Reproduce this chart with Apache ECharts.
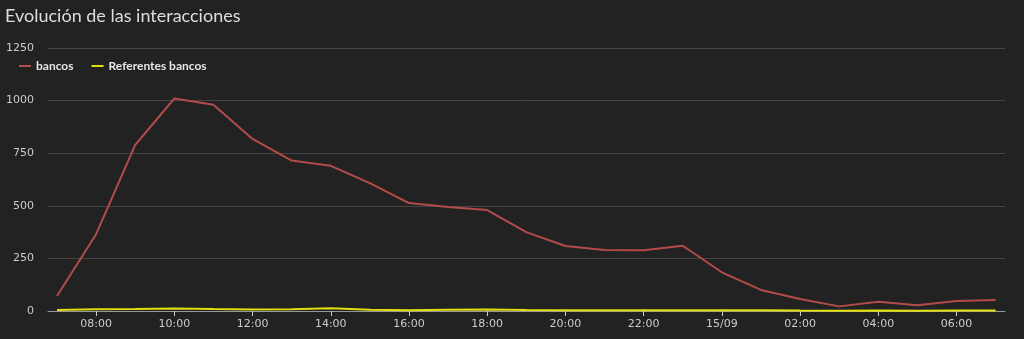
<!DOCTYPE html>
<html><head><meta charset="utf-8">
<script src="https://cdn.jsdelivr.net/npm/echarts@6/dist/echarts.min.js"></script>
<style>html,body{margin:0;padding:0;background:#222222;}#c{width:1024px;height:339px;}</style>
</head><body><div id="c"></div>
<script>
const hours = ['2023-09-14 07:00','2023-09-14 08:00','2023-09-14 09:00','2023-09-14 10:00','2023-09-14 11:00','2023-09-14 12:00','2023-09-14 13:00','2023-09-14 14:00','2023-09-14 15:00','2023-09-14 16:00','2023-09-14 17:00','2023-09-14 18:00','2023-09-14 19:00','2023-09-14 20:00','2023-09-14 21:00','2023-09-14 22:00','2023-09-14 23:00','2023-09-15 00:00','2023-09-15 01:00','2023-09-15 02:00','2023-09-15 03:00','2023-09-15 04:00','2023-09-15 05:00','2023-09-15 06:00','2023-09-15 07:00'];
const bancos = [71,365,790,1010,980,818,715,690,608,513,494,480,375,309,290,289,310,184,100,57,22,44,27,47,52];
const referentes = [5,8,9,12,9,7,8,13,6,4,6,7,5,4,3,3,4,3,4,2,1,2,1,2,2];
const seriesNames = ['bancos','Referentes bancos'];
const xTickLabels = ['2023-09-14 08:00','2023-09-14 10:00','2023-09-14 12:00','2023-09-14 14:00','2023-09-14 16:00','2023-09-14 18:00','2023-09-14 20:00','2023-09-14 22:00','2023-09-15 00:00','2023-09-15 02:00','2023-09-15 04:00','2023-09-15 06:00'];
const yTicks = [0,250,500,750,1000,1250];

function ts(s){const [d,t]=s.split(' ');const [Y,M,D]=d.split('-').map(Number);const [h,m]=t.split(':').map(Number);return new Date(Y,M-1,D,h,m).getTime();}
const H = 3600*1000;
const t0 = ts(hours[0]), t1 = ts(hours[hours.length-1]);
const xTickVals = xTickLabels.map(ts);
const chart = echarts.init(document.getElementById('c'));
const pad2 = n => (n<10?'0':'')+n;
chart.setOption({
  backgroundColor:'#222222',
  animation:false,
  title:{text:'Evolución de las interacciones',left:0,top:2,textStyle:{color:'#dddddd',fontSize:18,fontWeight:'normal',fontFamily:'Lato'}},
  legend:{left:14,top:55,icon:'rect',itemWidth:12,itemHeight:2,itemGap:18,textStyle:{color:'#e6e6e6',fontSize:12,fontWeight:'bold',fontFamily:'Lato'},data:seriesNames},
  grid:{left:48,right:19,top:48,bottom:28},
  xAxis:{type:'value',min:t0-0.23*H,max:t1+0.24*H,scale:true,
    axisLine:{lineStyle:{color:'#999999'}},
    axisTick:{show:true,length:5,lineStyle:{color:'#cccccc'},customValues:xTickVals},
    splitLine:{show:false},
    axisLabel:{color:'#cccccc',fontSize:11,fontFamily:'DejaVu Sans',hideOverlap:false,customValues:xTickVals,
      formatter:function(v){const d=new Date(v);if(d.getHours()===0&&d.getMinutes()===0)return pad2(d.getDate())+'/'+pad2(d.getMonth()+1);return pad2(d.getHours())+':'+pad2(d.getMinutes());}}},
  yAxis:{type:'value',min:yTicks[0],max:yTicks[yTicks.length-1],interval:250,
    axisLine:{show:false},axisTick:{show:false},
    splitLine:{lineStyle:{color:'#444444'}},
    axisLabel:{color:'#cccccc',fontSize:11,fontFamily:'DejaVu Sans',margin:14,formatter:v=>String(v)}},
  series:[
    {name:seriesNames[0],type:'line',showSymbol:false,data:hours.map((h,i)=>[ts(h),bancos[i]]),lineStyle:{color:'#b34b4b',width:2},itemStyle:{color:'#b34b4b'}},
    {name:seriesNames[1],type:'line',showSymbol:false,data:hours.map((h,i)=>[ts(h),referentes[i]]),lineStyle:{color:'#e0e010',width:2},itemStyle:{color:'#e0e010'}}
  ]
});
</script></body></html>
